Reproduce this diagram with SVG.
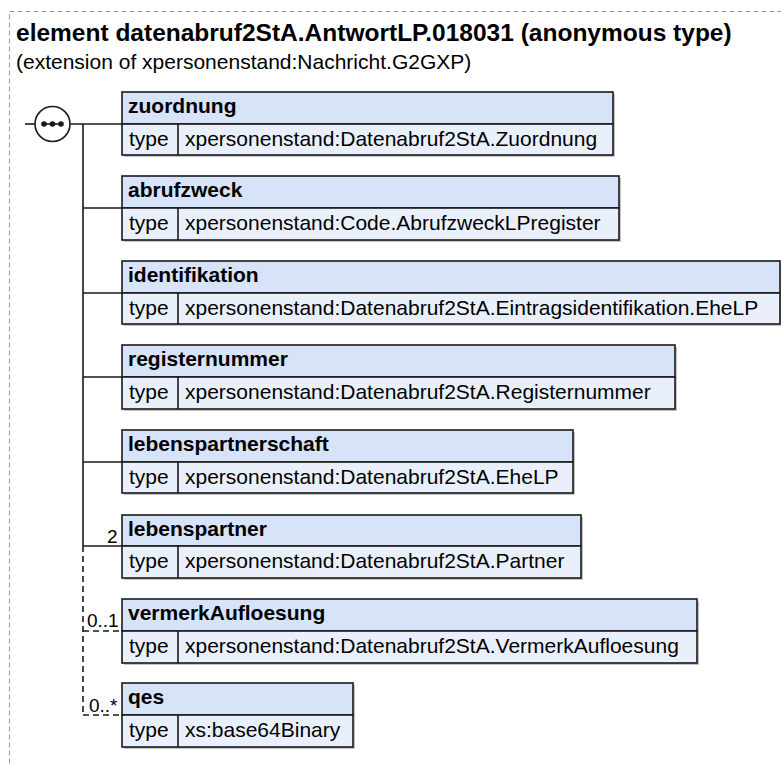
<svg xmlns="http://www.w3.org/2000/svg" width="781" height="765" viewBox="0 0 781 765">
<style>
.frame{fill:none;stroke:#999;stroke-width:1;stroke-dasharray:5,3}
.title{font-family:"Liberation Sans",Arial,sans-serif;font-weight:bold;font-size:24.5px;fill:#000}
.sub{font-family:"Liberation Sans",Arial,sans-serif;font-size:21px;fill:#000}
.hdr{fill:#d6e3f8;stroke:#1a1a1a;stroke-width:1.6}
.row{fill:#eaf0fb;stroke:#1a1a1a;stroke-width:1.6}
.shadow{fill:#c4c4c4}
.name{font-family:"Liberation Sans",Arial,sans-serif;font-weight:bold;font-size:21px;fill:#000}
.txt{font-family:"Liberation Sans",Arial,sans-serif;font-size:21px;fill:#000}
.card{font-family:"Liberation Sans",Arial,sans-serif;font-size:19px;fill:#000}
.ln{fill:none;stroke:#1a1a1a;stroke-width:1.6}
.dash{fill:none;stroke:#1a1a1a;stroke-width:1.6;stroke-dasharray:6,4}
</style>
<rect class="frame" x="9.5" y="11.5" width="780" height="760"/>
<text class="title" x="16" y="41">element datenabruf2StA.AntwortLP.018031 (anonymous type)</text>
<text class="sub" x="16" y="69">(extension of xpersonenstand:Nachricht.G2GXP)</text>

<g id="connectors">
<line class="ln" x1="25" y1="124" x2="35" y2="124"/>
<line class="ln" x1="70" y1="124" x2="122" y2="124"/>
<line class="ln" x1="83" y1="124" x2="83" y2="546"/>
<line class="ln" x1="83" y1="208" x2="122" y2="208"/>
<line class="ln" x1="83" y1="293" x2="122" y2="293"/>
<line class="ln" x1="83" y1="377" x2="122" y2="377"/>
<line class="ln" x1="83" y1="462" x2="122" y2="462"/>
<line class="ln" x1="83" y1="546" x2="122" y2="546"/>
<line class="dash" x1="83" y1="546" x2="83" y2="715"/>
<line class="dash" x1="83" y1="631" x2="122" y2="631"/>
<line class="dash" x1="83" y1="715" x2="122" y2="715"/>
<text class="card" x="107" y="543">2</text>
<text class="card" x="87" y="627">0..1</text>
<text class="card" x="89" y="712">0..*</text>
</g>

<g id="sequence">
<circle cx="52.5" cy="124" r="17.5" fill="#fff" stroke="#1a1a1a" stroke-width="1.6"/>
<line x1="42" y1="124" x2="63" y2="124" stroke="#1a1a1a" stroke-width="1.6"/>
<circle cx="44" cy="124" r="2.8" fill="#1a1a1a"/>
<circle cx="52.5" cy="124" r="2.8" fill="#1a1a1a"/>
<circle cx="61" cy="124" r="2.8" fill="#1a1a1a"/>
</g>

<g id="zuordnung">
<rect class="shadow" x="124" y="94" width="491" height="63"/>
<rect class="hdr" x="122" y="92" width="491" height="32"/>
<rect class="row" x="122" y="124" width="491" height="31"/>
<line class="ln" x1="178" y1="124" x2="178" y2="155"/>
<text class="name" x="128" y="113">zuordnung</text>
<text class="txt" x="129" y="146">type</text>
<text class="txt" x="185" y="146">xpersonenstand:Datenabruf2StA.Zuordnung</text>
</g>

<g id="abrufzweck">
<rect class="shadow" x="124" y="178" width="497" height="64"/>
<rect class="hdr" x="122" y="176" width="497" height="32"/>
<rect class="row" x="122" y="208" width="497" height="32"/>
<line class="ln" x1="178" y1="208" x2="178" y2="240"/>
<text class="name" x="128" y="197">abrufzweck</text>
<text class="txt" x="129" y="230">type</text>
<text class="txt" x="185" y="230">xpersonenstand:Code.AbrufzweckLPregister</text>
</g>

<g id="identifikation">
<rect class="shadow" x="124" y="263" width="659" height="63"/>
<rect class="hdr" x="122" y="261" width="658" height="32"/>
<rect class="row" x="122" y="293" width="658" height="31"/>
<line class="ln" x1="178" y1="293" x2="178" y2="324"/>
<text class="name" x="128" y="282">identifikation</text>
<text class="txt" x="129" y="315">type</text>
<text class="txt" x="185" y="315">xpersonenstand:Datenabruf2StA.Eintragsidentifikation.EheLP</text>
</g>

<g id="registernummer">
<rect class="shadow" x="124" y="347" width="553" height="64"/>
<rect class="hdr" x="122" y="345" width="553" height="32"/>
<rect class="row" x="122" y="377" width="553" height="32"/>
<line class="ln" x1="178" y1="377" x2="178" y2="409"/>
<text class="name" x="128" y="366">registernummer</text>
<text class="txt" x="129" y="399">type</text>
<text class="txt" x="185" y="399">xpersonenstand:Datenabruf2StA.Registernummer</text>
</g>

<g id="lebenspartnerschaft">
<rect class="shadow" x="124" y="432" width="451" height="63"/>
<rect class="hdr" x="122" y="430" width="451" height="32"/>
<rect class="row" x="122" y="462" width="451" height="31"/>
<line class="ln" x1="178" y1="462" x2="178" y2="493"/>
<text class="name" x="128" y="451">lebenspartnerschaft</text>
<text class="txt" x="129" y="484">type</text>
<text class="txt" x="185" y="484">xpersonenstand:Datenabruf2StA.EheLP</text>
</g>

<g id="lebenspartner">
<rect class="shadow" x="124" y="517" width="459" height="63"/>
<rect class="hdr" x="122" y="515" width="459" height="31"/>
<rect class="row" x="122" y="546" width="459" height="32"/>
<line class="ln" x1="178" y1="546" x2="178" y2="578"/>
<text class="name" x="128" y="536">lebenspartner</text>
<text class="txt" x="129" y="568">type</text>
<text class="txt" x="185" y="568">xpersonenstand:Datenabruf2StA.Partner</text>
</g>

<g id="vermerkAufloesung">
<rect class="shadow" x="124" y="601" width="575" height="64"/>
<rect class="hdr" x="122" y="599" width="575" height="32"/>
<rect class="row" x="122" y="631" width="575" height="32"/>
<line class="ln" x1="178" y1="631" x2="178" y2="663"/>
<text class="name" x="128" y="620">vermerkAufloesung</text>
<text class="txt" x="129" y="653">type</text>
<text class="txt" x="185" y="653">xpersonenstand:Datenabruf2StA.VermerkAufloesung</text>
</g>

<g id="qes">
<rect class="shadow" x="124" y="685" width="231" height="64"/>
<rect class="hdr" x="122" y="683" width="231" height="32"/>
<rect class="row" x="122" y="715" width="231" height="32"/>
<line class="ln" x1="178" y1="715" x2="178" y2="747"/>
<text class="name" x="128" y="704">qes</text>
<text class="txt" x="129" y="737">type</text>
<text class="txt" x="185" y="737">xs:base64Binary</text>
</g>
</svg>
